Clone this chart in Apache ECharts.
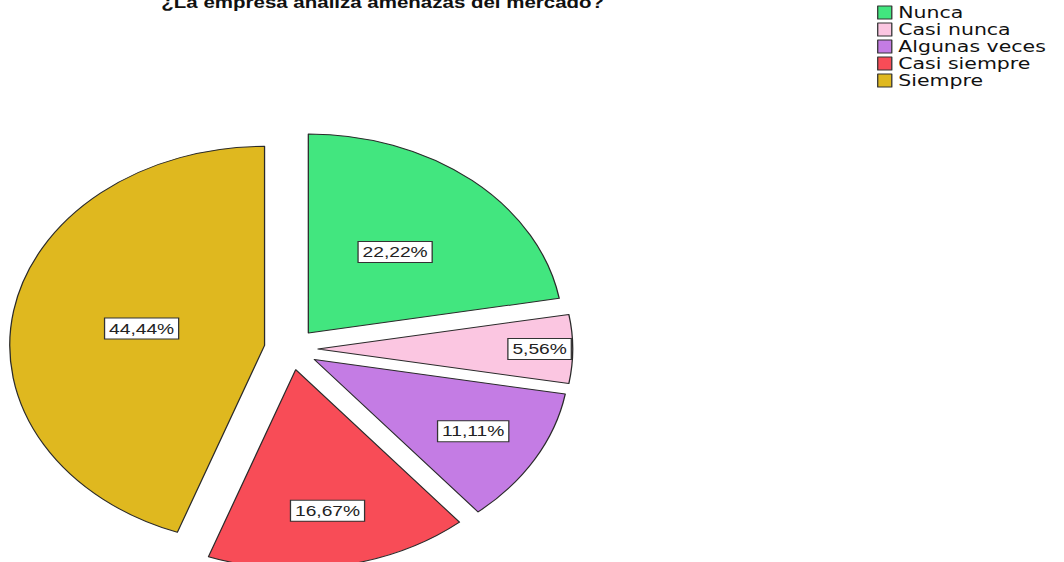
<!DOCTYPE html>
<html>
<head>
<meta charset="utf-8">
<script src="https://cdn.jsdelivr.net/npm/echarts@6/dist/echarts.min.js"></script>
<style>
  html, body { margin: 0; padding: 0; background: #fff; overflow: hidden; }
  #wrap { width: 1064px; height: 562px; overflow: hidden; position: relative; }
  #chart { width: 831px; height: 562px; transform: scaleX(1.2804); transform-origin: 0 0; position: absolute; left: 0; top: 0; }
</style>
</head>
<body>
<div id="wrap"><div id="chart"></div></div>
<script>
// ---- data ----
const titleText = '¿La empresa analiza amenazas del mercado?';
const categories = ['Nunca', 'Casi nunca', 'Algunas veces', 'Casi siempre', 'Siempre'];
const percentages = [22.22, 5.56, 11.11, 16.67, 44.44];

// ---- styling / layout (kept apart from the data) ----
const colors = ['#42e67f', '#fbc6e1', '#c47ce4', '#f84c57', '#dfb81f'];
const labelRadiusFrac = [0.53, 0.87, 0.72, 0.72, 0.49];
const PIE_R = 199;
const EXPLODE = 21;

const total = percentages.reduce((a, b) => a + b, 0);
const midAngles = [];
let acc = 0;
percentages.forEach(v => {
  const span = v / total * 360;
  midAngles.push(acc + span / 2);
  acc += span;
});

const chart = echarts.init(document.getElementById('chart'), null, { renderer: 'svg' });
chart.setOption({
  animation: false,
  backgroundColor: '#fff',
  color: colors,
  title: {
    text: titleText,
    left: 121,
    top: -11,
    textStyle: { fontFamily: 'Liberation Sans, Arial, sans-serif', fontSize: 16, fontWeight: 'bold', color: '#111' }
  },
  legend: {
    orient: 'vertical',
    left: 685,
    top: 4,
    padding: 0,
    itemGap: 0,
    itemWidth: 11,
    itemHeight: 13,
    icon: 'rect',
    itemStyle: { borderColor: '#333', borderWidth: 1 },
    textStyle: { fontFamily: 'DejaVu Sans, sans-serif', fontSize: 16, lineHeight: 17, color: '#111' },
    data: categories
  },
  series: [{
    type: 'pie',
    center: [227.3, 349],
    radius: PIE_R,
    startAngle: 90,
    clockwise: true,
    selectedMode: 'multiple',
    selectedOffset: EXPLODE,
    avoidLabelOverlap: false,
    emphasis: { scale: false },
    itemStyle: { borderColor: '#2a2a2a', borderWidth: 1 },
    label: {
      show: true,
      position: 'inside',
      formatter: p => p.value.toFixed(2).replace('.', ',') + '%',
      fontFamily: 'Liberation Sans, Arial, sans-serif',
      fontSize: 15,
      color: '#222',
      backgroundColor: '#fff',
      borderColor: '#333',
      borderWidth: 1,
      padding: [3, 3, 2, 3]
    },
    labelLine: { show: false },
    labelLayout: function (params) {
      const i = params.dataIndex;
      const a = midAngles[i] * Math.PI / 180;
      const extra = labelRadiusFrac[i] * PIE_R - (PIE_R / 2 + 3);
      return { dx: extra * Math.sin(a), dy: -extra * Math.cos(a) };
    },
    data: categories.map((name, i) => ({ name: name, value: percentages[i], selected: true }))
  }]
});
</script>
</body>
</html>
